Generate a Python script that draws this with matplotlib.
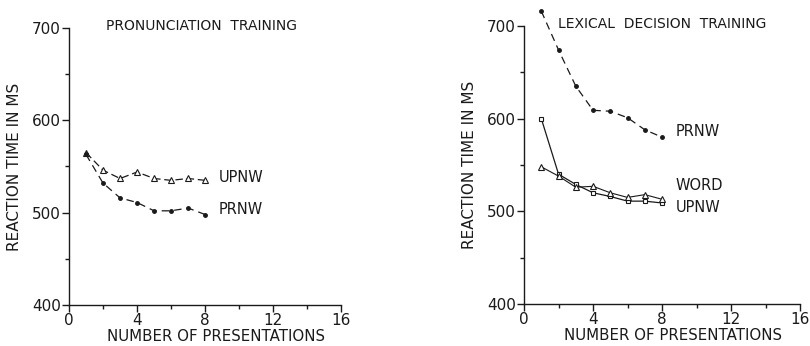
import matplotlib
matplotlib.use("Agg")
import matplotlib.pyplot as plt
from matplotlib.ticker import MultipleLocator

plt.rcParams['font.family'] = ['DejaVu Sans']

presentations = [1, 2, 3, 4, 5, 6, 7, 8]

# pronunciation training
pron_upnw = [565, 546, 537, 544, 537, 535, 537, 535]
pron_prnw = [563, 532, 516, 511, 502, 502, 505, 498]

# lexical decision training
lex_prnw = [716, 674, 635, 609, 608, 601, 588, 580]
lex_upnw = [600, 540, 529, 520, 516, 511, 511, 509]
lex_word = [548, 538, 526, 527, 520, 515, 518, 513]

ink = '#1a1a1a'


def style_axes(ax):
    ax.set_xlim(0, 16)
    ax.set_ylim(400, 700)
    ax.spines['top'].set_visible(False)
    ax.spines['right'].set_visible(False)
    for s in ('left', 'bottom'):
        ax.spines[s].set_linewidth(1.0)
        ax.spines[s].set_color(ink)
    ax.xaxis.set_major_locator(MultipleLocator(4))
    ax.xaxis.set_minor_locator(MultipleLocator(2))
    ax.yaxis.set_major_locator(MultipleLocator(100))
    ax.yaxis.set_minor_locator(MultipleLocator(50))
    ax.tick_params(which='major', direction='out', length=5, width=1,
                   labelsize=11, colors=ink, pad=1)
    ax.tick_params(which='minor', direction='out', length=3, width=1, colors=ink)
    ax.set_xlabel('NUMBER OF PRESENTATIONS', fontsize=10.8, color=ink, labelpad=1)
    ax.xaxis.set_label_coords(0.54, -0.085)
    ax.set_ylabel('REACTION TIME IN MS', fontsize=11, color=ink, labelpad=7)


fig = plt.figure(figsize=(8.1, 3.46), dpi=100)

ax1 = fig.add_axes([0.0852, 0.1185, 0.336, 0.8006])
ax1.plot(presentations, pron_upnw, linestyle=(0, (6, 3)), color=ink, lw=0.9,
         marker='^', ms=4, mfc='white', mec=ink, mew=0.8)
ax1.plot(presentations, pron_prnw, linestyle=(0, (6, 4)), color=ink, lw=0.9,
         marker='o', ms=2.5, mfc=ink, mec=ink)
style_axes(ax1)
ax1.text(8.8, pron_upnw[-1] + 3, 'UPNW', fontsize=10.5, color=ink, va='center')
ax1.text(8.8, pron_prnw[-1] + 5, 'PRNW', fontsize=10.5, color=ink, va='center')
ax1.text(7.76, 702, 'PRONUNCIATION  TRAINING', fontsize=10, color=ink,
         ha='center', va='center')

ax2 = fig.add_axes([0.647, 0.1214, 0.3407, 0.8035])
ax2.plot(presentations, lex_prnw, linestyle=(0, (6, 4)), color=ink, lw=0.9,
         marker='o', ms=2.5, mfc=ink, mec=ink, clip_on=False)
ax2.plot(presentations, lex_upnw, linestyle='-', color=ink, lw=0.9,
         marker='s', ms=3.5, mfc='white', mec=ink, mew=0.8)
ax2.plot(presentations, lex_word, linestyle='-', color=ink, lw=0.8,
         marker='^', ms=4, mfc='white', mec=ink, mew=0.8)
style_axes(ax2)
ax2.text(8.8, 586, 'PRNW', fontsize=10.5, color=ink, va='center')
ax2.text(8.8, 528, 'WORD', fontsize=10.5, color=ink, va='center')
ax2.text(8.8, 504, 'UPNW', fontsize=10.5, color=ink, va='center')
ax2.text(1.97, 702, 'LEXICAL  DECISION  TRAINING', fontsize=10, color=ink,
         ha='left', va='center')

fig.savefig('out.png', dpi=100)
